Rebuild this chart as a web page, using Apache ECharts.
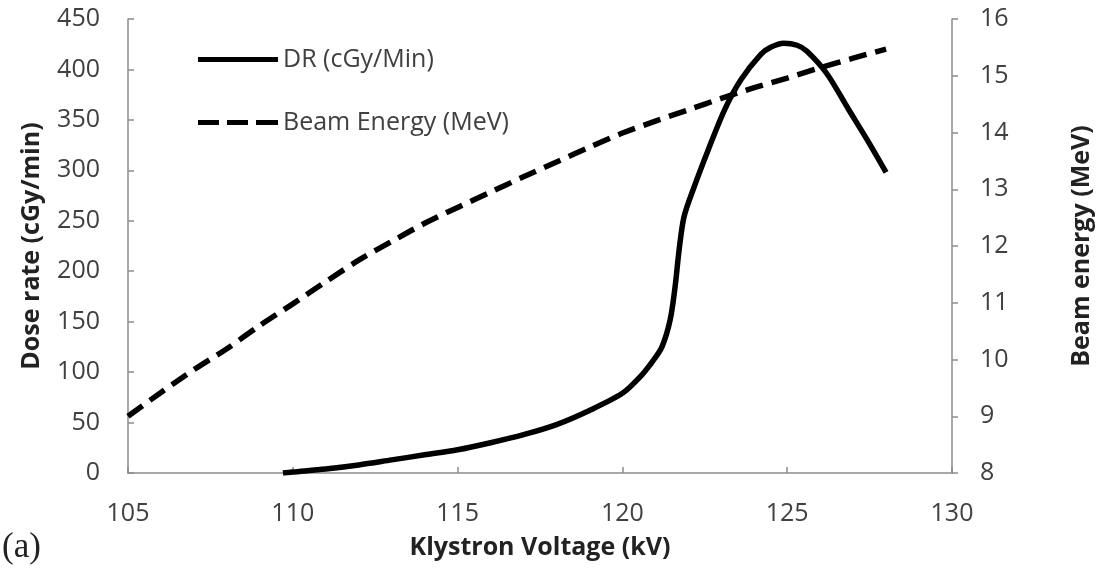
<!DOCTYPE html>
<html>
<head>
<meta charset="utf-8">
<script src="https://cdn.jsdelivr.net/npm/echarts@6/dist/echarts.min.js"></script>
<style>html,body{margin:0;padding:0;background:#fff}#c{width:1110px;height:580px}</style>
</head>
<body>
<div id="c"></div>
<script>
// Data
const drVoltage = [109.7,110,111,112,113,114,115,116,117,118,119,120,120.5,120.9,121.2,121.45,121.6,121.72,121.87,122.17,122.6,123.1,123.6,124.2,124.5,124.9,125.3,125.6,126.2,126.85,127.45,128];
const drValues  = [0,1,4,8,13,18,23,30,38,48,62,79,94,110,125,152,185,221,254,283,320,360,390,415,422,426,424,418,396,361,329,298];
const beVoltage = [105,106,107,108,109,110,111,112,113,114,115,116,117,118,119,120,121,122,123,124,125,126,127,128];
const beValues  = [9.0,9.42,9.82,10.19,10.6,10.98,11.37,11.75,12.08,12.4,12.68,12.95,13.22,13.48,13.74,13.99,14.2,14.4,14.6,14.79,14.96,15.14,15.31,15.47];
const seriesNames = ['DR (cGy/Min)', 'Beam Energy (MeV)'];
const xAxisName = 'Klystron Voltage (kV)';
const yLeftName = 'Dose rate (cGy/min)';
const yRightName = 'Beam energy (MeV)';

const chart = echarts.init(document.getElementById('c'));
const font = 'Open Sans';
const axisLineStyle = { color: '#8c8c8c', width: 1.5 };
const labelColor = '#404040';

chart.setOption({
  animation: false,
  backgroundColor: '#fff',
  grid: { left: 128, right: 158, top: 19, bottom: 107 },
  legend: {
    orient: 'vertical',
    left: 193,
    top: 42,
    itemWidth: 80,
    itemHeight: 5,
    itemGap: 38,
    textStyle: { fontFamily: font, fontSize: 25, color: labelColor },
    data: [
      { name: seriesNames[0], icon: 'path://M0,0H80V5H0Z', itemStyle: { color: '#000' } },
      { name: seriesNames[1], icon: 'path://M0,0H21V5H0Z M29,0H50V5H29Z M58,0H80V5H58Z', itemStyle: { color: '#000' } }
    ]
  },
  xAxis: {
    type: 'value', min: 105, max: 130, interval: 5,
    name: xAxisName, nameLocation: 'middle', nameGap: 62,
    nameTextStyle: { fontFamily: font, fontSize: 25, fontWeight: 'bold', color: '#222' },
    axisLine: { show: true, lineStyle: axisLineStyle },
    axisTick: { show: true, inside: true, length: 6, lineStyle: axisLineStyle },
    axisLabel: { fontFamily: font, fontSize: 25, color: labelColor, margin: 28 },
    splitLine: { show: false }
  },
  yAxis: [
    {
      type: 'value', min: 0, max: 450, interval: 50, position: 'left',
      name: yLeftName, nameLocation: 'middle', nameGap: 84, nameRotate: 90,
      nameTextStyle: { fontFamily: font, fontSize: 25, fontWeight: 'bold', color: '#222' },
      axisLine: { show: true, lineStyle: axisLineStyle },
      axisTick: { show: true, inside: true, length: 6, lineStyle: axisLineStyle },
      axisLabel: { fontFamily: font, fontSize: 25, color: labelColor, margin: 28 },
      splitLine: { show: false }
    },
    {
      type: 'value', min: 8, max: 16, interval: 1, position: 'right',
      name: yRightName, nameLocation: 'middle', nameGap: 117, nameRotate: 90,
      nameTextStyle: { fontFamily: font, fontSize: 25, fontWeight: 'bold', color: '#222' },
      axisLine: { show: true, lineStyle: axisLineStyle },
      axisTick: { show: true, inside: false, length: 6, lineStyle: axisLineStyle },
      axisLabel: { fontFamily: font, fontSize: 25, color: labelColor, margin: 28 },
      splitLine: { show: false }
    }
  ],
  graphic: [{
    type: 'text', left: 2, top: 530,
    style: { text: '(a)', font: '35px "Liberation Serif"', fill: '#222' }
  }],
  series: [
    {
      name: seriesNames[0], type: 'line', yAxisIndex: 0,
      data: drVoltage.map((v, i) => [v, drValues[i]]),
      smooth: 0.3, symbol: 'none',
      lineStyle: { color: '#000', width: 5.5 },
      itemStyle: { color: '#000' }
    },
    {
      name: seriesNames[1], type: 'line', yAxisIndex: 1,
      data: beVoltage.map((v, i) => [v, beValues[i]]),
      smooth: 0.3, symbol: 'none',
      lineStyle: { color: '#000', width: 5.5, type: [18, 9], cap: 'butt' },
      itemStyle: { color: '#000' }
    }
  ]
});
</script>
</body>
</html>
